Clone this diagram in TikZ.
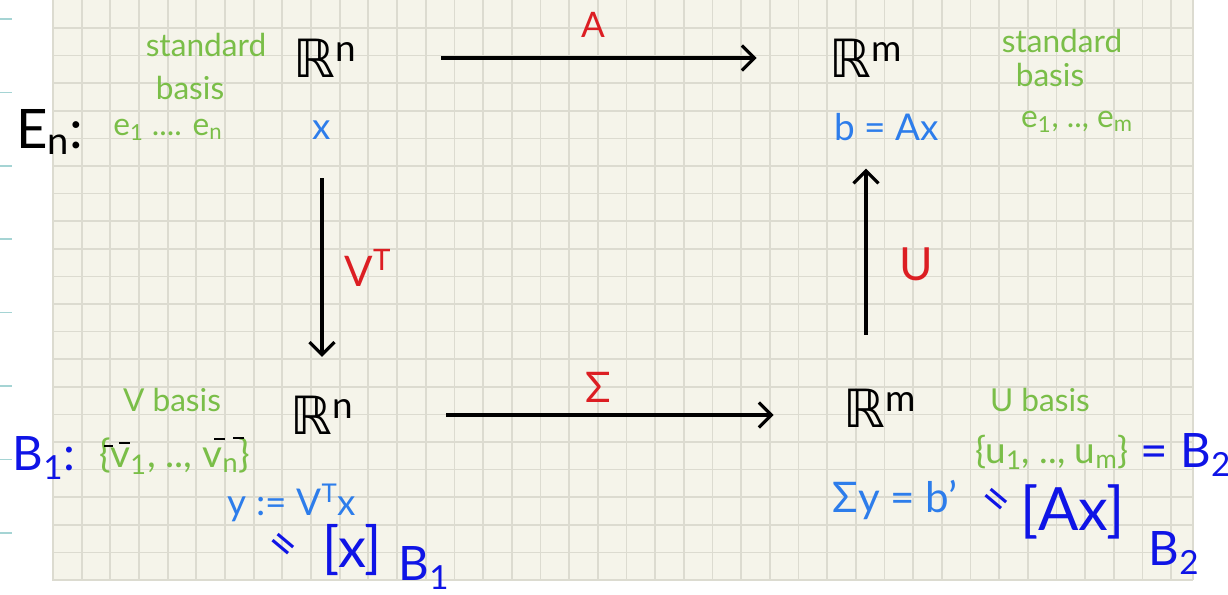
\documentclass[tikz,border=0pt]{standalone}
\usepackage{fontspec}
\setmainfont{Lato}
\newfontfamily\dejavu{DejaVu Sans}
\usetikzlibrary{arrows.meta, positioning}
\definecolor{paper}{RGB}{245,244,234}
\definecolor{gridgray}{RGB}{220,219,208}
\definecolor{marginteal}{RGB}{165,212,212}
\definecolor{notegreen}{RGB}{122,190,72}
\definecolor{noteblue}{RGB}{45,125,235}
\definecolor{inkblue}{RGB}{15,20,230}
\definecolor{notered}{RGB}{220,30,35}
\newcommand{\RR}{{\dejavu ℝ}}

\begin{document}
\begin{tikzpicture}[x=0.02cm, y=-0.02cm,
    space/.style={inner sep=2pt, font=\fontsize{30}{32}\selectfont},
    greennote/.style={inner sep=2pt, text=notegreen, font=\fontsize{18}{20}\selectfont},
    bluenote/.style={inner sep=2pt, text=noteblue, font=\fontsize{21}{24}\selectfont},
    inknote/.style={inner sep=2pt, text=inkblue, font=\fontsize{27}{30}\selectfont},
    mapname/.style={inner sep=2pt, text=notered, font=\fontsize{20}{22}\selectfont},
    maparrow/.style={line width=1.8pt, -{Straight Barb[length=2.5mm, width=5mm]}}]

    \useasboundingbox (0,0) rectangle (1228,595);

    % Paper
    \fill[paper] (52,0) rectangle (1193,580);
    \foreach \i in {0,...,39} {
        \draw[gridgray, line width=1pt] ({53+\i*28.67},0) -- ({53+\i*28.67},580);
    }
    \foreach \j in {0,...,20} {
        \draw[gridgray, line width=1pt] (52,{580-\j*27.6}) -- (1193,{580-\j*27.6});
    }
    \draw[gridgray, line width=1pt] (1193,0) -- (1193,580);

    % Margin marks
    \foreach \k in {0,...,7} {
        \draw[marginteal, line width=1pt] (0,{19+\k*73.4}) -- (12,{19+\k*73.4});
    }

    % Spaces
    \node[space] (Rn) at (325,58) {\RR\textsuperscript{n}};
    \node[space] (Rm) at (866,58) {\RR\textsuperscript{m}};
    \node[space] (Rnb) at (322,415) {\RR\textsuperscript{n}};
    \node[space] (Rmb) at (880,408) {\RR\textsuperscript{m}};

    % Vectors
    \node[bluenote] (xvec) at (322,130) {x};
    \node[bluenote] (bAx) at (887,127) {b = Ax};
    \node[bluenote] (ydef) at (292,503) {y := V\textsuperscript{T}x};
    \node[bluenote, font=\fontsize{24}{26}\selectfont] (Sy) at (895,500) {Σy = b'};

    % Bases
    \node[greennote] (stdL) at (206,45) {standard};
    \node[greennote] (basL) at (190,88) {basis};
    \node[greennote] (eL) at (168,130) {e\textsubscript{1} .... e\textsubscript{n}};
    \node[greennote] (stdR) at (1062,41) {standard};
    \node[greennote] (basR) at (1050,75) {basis};
    \node[greennote] (eR) at (1077,122) {e\textsubscript{1}, .., e\textsubscript{m}};
    \node[greennote] (Vbas) at (172,400) {V basis};
    \node[greennote, font=\fontsize{22}{24}\selectfont] (vset) at (175,456) {\{v\textsubscript{1}, .., v\textsubscript{n}\}};
    \node[greennote] (Ubas) at (1040,400) {U basis};
    \node[greennote, font=\fontsize{21}{24}\selectfont] (uset) at (1052,452) {\{u\textsubscript{1}, .., u\textsubscript{m}\}};

    % bars over v1, vn
    \draw[line width=1.6pt] (104,446) -- (113,446) (119,443) -- (130,443);
    \draw[line width=1.6pt] (214,439) -- (225,439) (233,438) -- (244,438);

    % Names of the bases
    \node[font=\fontsize{31}{33}\selectfont] (En) at (50,132) {E\textsubscript{n}:};
    \node[inknote] (B1) at (44,458) {B\textsubscript{1}:};
    \node[inknote] (B2) at (1186,455) {= B\textsubscript{2}};

    % Coordinates
    \node[inknote, rotate=-40] (eqL) at (280,548) {=};
    \node[inknote, font=\fontsize{32}{34}\selectfont] (xB) at (352,550) {[x]};
    \node[inknote] (B1sub) at (424,568) {B\textsubscript{1}};
    \node[inknote, rotate=-40] (eqR) at (993,503) {=};
    \node[inknote, font=\fontsize{34}{36}\selectfont] (AxB) at (1073,512) {[Ax]};
    \node[inknote] (B2sub) at (1174,553) {B\textsubscript{2}};

    % Maps
    \draw[maparrow, shorten <=1.62cm, shorten >=1.38cm] (Rn.east) -- node[mapname, above=9pt] {A} (Rn.east -| Rm.west);
    \draw[maparrow, shorten <=0.7cm, shorten >=0.7cm] (xvec) -- node[mapname, right=10pt, font=\fontsize{24}{26}\selectfont] {V\textsuperscript{T}} (Rnb);
    \draw[maparrow, shorten <=1.0cm, shorten >=0.48cm] (Rmb.north -| Rm) -- node[mapname, right=16pt, font=\fontsize{26}{28}\selectfont] {U} (bAx.south -| Rm);
    \draw[maparrow, shorten <=1.78cm, shorten >=1.32cm] (Rnb.east) -- node[mapname, above=4pt, font=\fontsize{24}{26}\selectfont] {Σ} (Rnb.east -| Rmb.west);

\end{tikzpicture}
\end{document}
